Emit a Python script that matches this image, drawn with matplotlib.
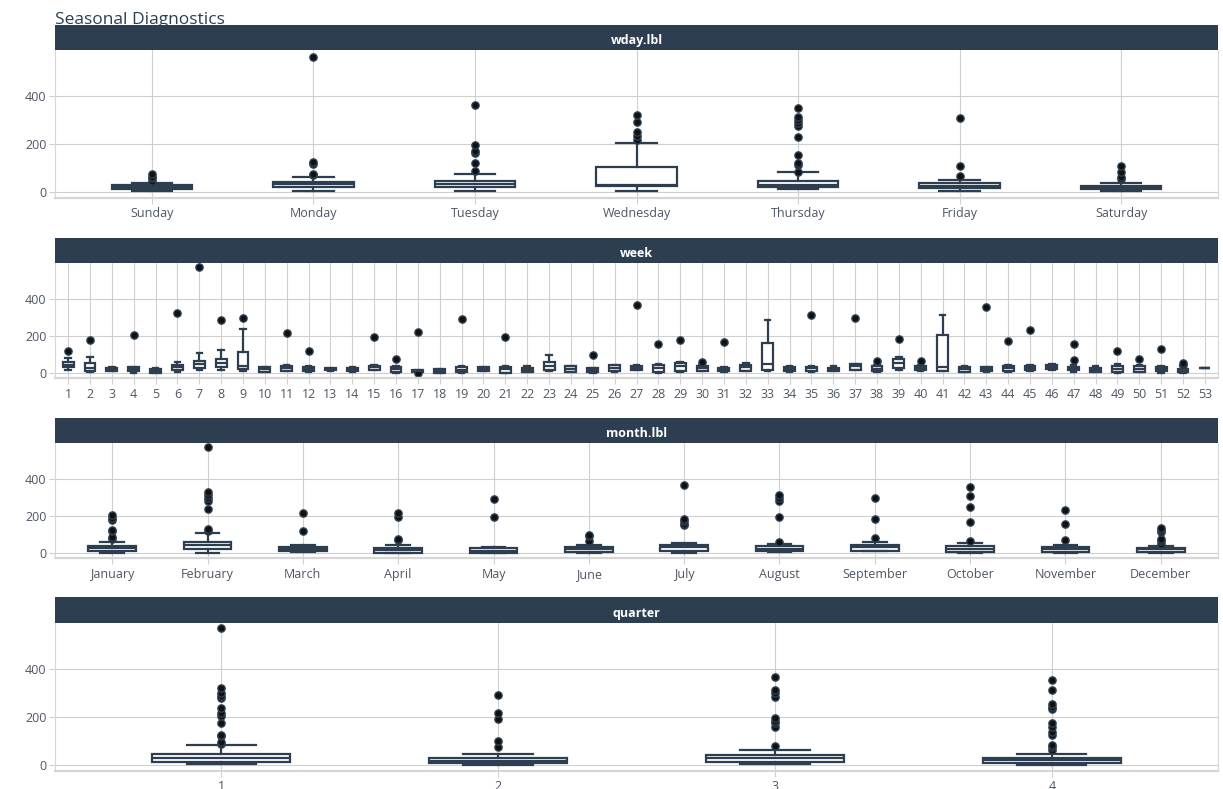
import matplotlib
matplotlib.use("Agg")
import matplotlib.pyplot as plt

plt.rcParams['font.family'] = ['Open Sans', 'DejaVu Sans']

# ---------------- data (value summaries) ----------------
wday_labels = ["Sunday", "Monday", "Tuesday", "Wednesday", "Thursday", "Friday", "Saturday"]
wday_q1 = [11, 18, 18, 25, 18, 14, 10]
wday_med = [20, 33, 32, 29, 28, 25, 18]
wday_q3 = [29, 40, 46, 102, 46, 36, 26]
wday_lo = [4, 4, 4, 4, 11, 5, 4]
wday_hi = [38, 63, 75, 205, 81, 51, 35]
wday_out = [
    [47, 56, 62, 75],
    [70, 75, 118, 124, 565],
    [89, 122, 163, 170, 196, 364],
    [217, 234, 252, 291, 322],
    [85, 113, 120, 155, 231, 277, 287, 301, 312, 352],
    [66, 107, 309],
    [52, 60, 81, 107],
]

week_labels = [str(i) for i in range(1, 54)]
week_q1 = [32, 14, 14, 13, 2, 20, 27, 32, 25, 9, 14, 11, 18, 13, 20, 7, 7, 4, 5, 14,
           4, 9, 18, 9, 7, 13, 20, 5, 13, 14, 11, 14, 18, 13, 13, 14, 18, 11, 31, 18,
           13, 9, 11, 11, 16, 23, 18, 7, 5, 9, 13, 5, 27]
week_med = [45, 31, 23, 23, 14, 34, 50, 58, 41, 22, 31, 25, 23, 22, 32, 23, 13, 14, 20, 25,
            25, 20, 38, 25, 18, 29, 31, 29, 40, 29, 22, 32, 52, 25, 29, 23, 38, 25, 54, 31,
            34, 22, 22, 31, 29, 36, 27, 18, 25, 25, 25, 16, 29]
week_q3 = [63, 58, 31, 32, 23, 47, 68, 76, 113, 32, 41, 36, 27, 29, 41, 32, 18, 23, 34, 32,
           36, 31, 61, 38, 27, 43, 41, 43, 56, 40, 31, 43, 164, 36, 36, 31, 49, 38, 77, 40,
           204, 34, 32, 41, 40, 45, 36, 29, 40, 38, 34, 25, 31]
week_lo = [16, 5, 13, 4, 0, 7, 16, 16, 11, 5, 11, 9, 14, 9, 16, 4, 5, 2, 2, 11,
           2, 5, 14, 5, 4, 9, 16, 2, 9, 11, 7, 11, 14, 9, 9, 13, 16, 7, 16, 11,
           11, 5, 9, 9, 13, 20, 7, 5, 2, 5, 4, 2, 27]
week_hi = [81, 90, 34, 36, 31, 61, 108, 124, 240, 36, 45, 38, 31, 32, 47, 40, 20, 25, 38, 36,
           38, 38, 99, 41, 31, 47, 45, 49, 59, 43, 34, 54, 285, 40, 40, 38, 52, 45, 90, 45,
           314, 38, 36, 47, 43, 49, 43, 38, 52, 47, 41, 40, 31]
week_out = [[122], [180], [], [204], [], [324], [571], [285], [299], [],
            [214], [121], [], [], [195], [76], [2, 220], [], [292], [],
            [196], [], [], [], [101], [], [368], [157], [180], [59],
            [166], [], [], [], [314], [], [295], [65], [187], [68],
            [], [], [357], [171], [234], [], [72, 157], [], [122], [77],
            [132], [45, 58], []]

month_labels = ["January", "February", "March", "April", "May", "June", "July",
                "August", "September", "October", "November", "December"]
month_q1 = [11, 22, 13, 4, 4, 9, 13, 11, 14, 9, 7, 9]
month_med = [29, 43, 25, 20, 14, 23, 32, 25, 34, 25, 23, 22]
month_q3 = [40, 59, 36, 31, 27, 34, 43, 38, 43, 38, 34, 31]
month_lo = [0, 4, 5, 0, 2, 4, 4, 5, 11, 4, 4, 0]
month_hi = [63, 108, 47, 47, 32, 45, 58, 52, 63, 58, 47, 40]
month_out = [
    [79, 90, 119, 126, 180, 190, 207],
    [121, 130, 236, 283, 296, 314, 328, 571],
    [121, 214],
    [72, 77, 195, 218],
    [195, 292],
    [68, 92, 101],
    [153, 160, 171, 184, 368],
    [63, 195, 283, 298, 314],
    [81, 187, 296],
    [68, 169, 250, 310, 355],
    [70, 155, 232],
    [50, 68, 77, 117, 127, 135],
]

quarter_labels = ["1", "2", "3", "4"]
quarter_q1 = [11, 7, 11, 9]
quarter_med = [27, 17, 28, 20]
quarter_q3 = [44, 27, 40, 30]
quarter_lo = [1, 0, 4, 0]
quarter_hi = [82, 44, 61, 47]
quarter_out = [
    [88, 95, 119, 126, 177, 204, 216, 237, 279, 289, 301, 323, 571],
    [74, 99, 193, 218, 291],
    [78, 159, 173, 184, 197, 284, 301, 315, 367],
    [62, 74, 81, 123, 138, 159, 173, 233, 241, 254, 313, 357],
]

panels = [
    ("wday.lbl", wday_labels, wday_q1, wday_med, wday_q3, wday_lo, wday_hi, wday_out),
    ("week", week_labels, week_q1, week_med, week_q3, week_lo, week_hi, week_out),
    ("month.lbl", month_labels, month_q1, month_med, month_q3, month_lo, month_hi, month_out),
    ("quarter", quarter_labels, quarter_q1, quarter_med, quarter_q3, quarter_lo, quarter_hi, quarter_out),
]

# ---------------- layout (pixels) ----------------
W, H = 1223, 789
DARK = "#2c3e50"
GRID = "#cfcfcf"
TICK = "#4d5663"
left_px, right_px = 55, 1218
# (strip_top, panel_top, panel_bottom)
geom = [(25, 50.3, 197.7), (238, 262.7, 378), (418, 442.7, 558), (597.3, 623, 770.7)]

fig = plt.figure(figsize=(W / 100, H / 100), dpi=100)
fig.patch.set_facecolor("white")

fig.text(left_px / W, 1 - 24 / H, "Seasonal Diagnostics", fontsize=12.5,
         color="#2a3f54", ha="left", va="baseline", zorder=-5)

for (name, labels, q1, med, q3, lo, hi, outs), (st, pt, pb) in zip(panels, geom):
    ax = fig.add_axes([left_px / W, 1 - pb / H, (right_px - left_px) / W, (pb - pt) / H])
    n = len(labels)
    pos = list(range(1, n + 1))
    stats = []
    for i in range(n):
        stats.append(dict(q1=q1[i], med=med[i], q3=q3[i], whislo=lo[i], whishi=hi[i],
                          fliers=outs[i]))
    ax.bxp(stats, positions=pos, widths=0.5, capwidths=0.25, patch_artist=True,
           showfliers=True,
           boxprops=dict(facecolor="white", edgecolor=DARK, linewidth=1.6),
           medianprops=dict(color=DARK, linewidth=1.6),
           whiskerprops=dict(color=DARK, linewidth=1.6),
           capprops=dict(color=DARK, linewidth=1.6),
           flierprops=dict(marker="o", markersize=5.2, markerfacecolor="#111111",
                           markeredgecolor=DARK, markeredgewidth=1.0, linestyle="none"))
    ax.set_xlim(0.4, n + 0.6)
    ax.set_ylim(-25, 594)
    ax.set_yticks([0, 200, 400])
    ax.set_xticks(pos)
    ax.set_xticklabels(labels)
    ax.set_axisbelow(True)
    ax.grid(True, color=GRID, linewidth=0.8)
    ax.tick_params(axis="x", length=4, color=GRID, labelcolor=TICK, labelsize=9, pad=3)
    ax.tick_params(axis="y", length=4, color=GRID, labelcolor=TICK, labelsize=9, pad=2)
    for s in ax.spines.values():
        s.set_color("#d6d6d6")
        s.set_linewidth(0.8)
    ax.spines["bottom"].set_linewidth(1.6)
    ax.spines["top"].set_visible(False)

    sax = fig.add_axes([left_px / W, 1 - pt / H, (right_px - left_px) / W, (pt - st) / H])
    sax.set_facecolor(DARK)
    sax.set_xticks([])
    sax.set_yticks([])
    for s in sax.spines.values():
        s.set_visible(False)
    sax.text(0.5, 0.38, name, transform=sax.transAxes, ha="center", va="center",
             color="white", fontsize=9, fontweight="bold")

fig.savefig("out.png", dpi=100)
